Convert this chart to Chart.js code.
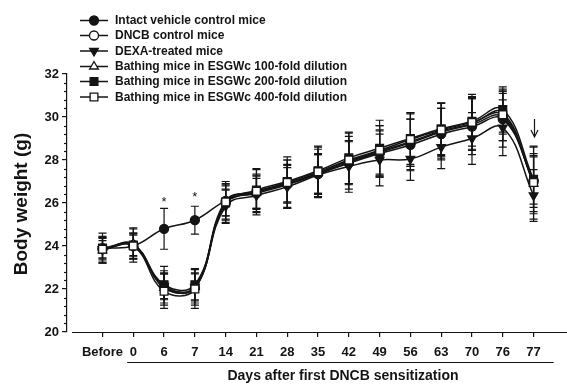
<!DOCTYPE html>
<html><head><meta charset="utf-8">
<script src="https://cdn.jsdelivr.net/npm/chart.js@4/dist/chart.umd.min.js"></script>
<style>html,body{margin:0;padding:0;background:#fff;}canvas{display:block;}</style>
</head><body>
<canvas id="c" width="567" height="384"></canvas>
<script>
const categories = ["Before","0","6","7","14","21","28","35","42","49","56","63","70","76","77"];
const seriesNames = ["Intact vehicle control mice","DNCB control mice","DEXA-treated mice","Bathing mice in ESGWc 100-fold dilution","Bathing mice in ESGWc 200-fold dilution","Bathing mice in ESGWc 400-fold dilution"];
const intact   = [23.9, 24.0, 24.8, 25.2, 26.1, 26.55, 26.9, 27.35, 27.85, 28.3, 28.7, 29.2, 29.55, 29.9, 27.05];
const dncb     = [23.85,24.05,22.1, 22.05,26.0, 26.45, 26.85,27.35, 27.9, 28.35,28.8, 29.3, 29.65, 30.0, 27.0];
const dexa     = [23.85,24.0, 22.15,22.1, 25.85,26.35, 26.75,27.3, 27.7, 28.0, 28.05,28.6, 29.0, 29.5, 26.35];
const esg100   = [23.8, 24.1, 22.05,22.1, 26.1, 26.5, 26.9, 27.4, 27.95, 28.4, 28.85,29.35, 29.7, 30.2, 26.9];
const esg200   = [23.9, 24.05,22.2, 22.2, 26.0, 26.6, 27.0, 27.5, 28.1, 28.55,29.0, 29.45, 29.8, 30.35, 27.1];
const esg400   = [23.85,24.0, 21.9, 22.0, 26.05,26.55, 26.95,27.45, 28.0, 28.45,28.95,29.4, 29.75, 30.1, 26.95];
const sdIntact = [0.5, 0.6, 0.95,0.65,0.7, 0.8, 0.9, 0.9, 1.0, 1.1, 1.2, 1.2, 1.3, 1.3, 1.1];
const sdDncb   = [0.4, 0.5, 0.6, 0.7, 0.6, 0.7, 0.8, 0.9, 1.0, 1.0, 1.1, 1.1, 1.2, 1.1, 1.2];
const sdDexa   = [0.5, 0.5, 0.9, 0.85,0.8, 0.9, 1.0, 1.0, 1.2, 1.2, 1.0, 1.0, 1.2, 1.3, 1.2];
const sd100    = [0.6, 0.7, 0.7, 0.6, 0.9, 0.8, 1.1, 1.1, 1.3, 1.2, 1.3, 1.3, 1.2, 1.0, 1.4];
const sd200    = [0.7, 0.8, 0.65,0.75,0.9, 1.0, 1.0, 1.1, 1.2, 1.3, 1.2, 1.2, 1.15,1.05,1.5];
const sd400    = [0.6, 0.6, 0.8, 0.9, 0.8, 1.0, 1.2, 1.2, 1.1, 1.15,1.25,1.25,1.3, 1.2, 1.7];
const yTickValues = [20,22,24,26,28,30,32];

const INK = '#141414';
const FONT = '"Liberation Sans", Arial, sans-serif';
function pts(arr){ return arr.map((v,i)=>({x:i,y:v})); }
const styles = [
  {ps:'circle', fill:INK, rot:0, r:4.5},
  {ps:'circle', fill:'#fff', rot:0, r:4.5},
  {ps:'triangle', fill:INK, rot:180, r:5},
  {ps:'triangle', fill:'#fff', rot:0, r:5},
  {ps:'rect', fill:INK, rot:0, r:5.5},
  {ps:'rect', fill:'#fff', rot:0, r:5.5}
];
const values = [intact,dncb,dexa,esg100,esg200,esg400];
const sds = [sdIntact,sdDncb,sdDexa,sd100,sd200,sd400];
const orders = [1,5,4,3,2,0];
const datasets = values.map((v,k)=>({
  label: seriesNames[k], data: pts(v), sd: sds[k],
  borderColor: INK, borderWidth: 1.5, tension: 0.42,
  pointStyle: styles[k].ps, pointRotation: styles[k].rot, pointRadius: styles[k].r,
  pointBackgroundColor: styles[k].fill, pointBorderColor: INK, pointBorderWidth: 1.3,
  order: orders[k]
}));

const decor = {
  id:'decor',
  beforeDatasetsDraw(chart){
    const ctx = chart.ctx, xs = chart.scales.x, ys = chart.scales.y;
    ctx.save(); ctx.strokeStyle = INK; ctx.lineWidth = 1.2;
    chart.data.datasets.forEach((ds)=>{
      ds.data.forEach((p,i)=>{
        const x = xs.getPixelForValue(p.x);
        const t = ys.getPixelForValue(p.y + ds.sd[i]);
        const b = ys.getPixelForValue(p.y - ds.sd[i]);
        ctx.beginPath();
        ctx.moveTo(x,t); ctx.lineTo(x,b);
        ctx.moveTo(x-4,t); ctx.lineTo(x+4,t);
        ctx.moveTo(x-4,b); ctx.lineTo(x+4,b);
        ctx.stroke();
      });
    });
    ctx.restore();
  },
  afterDraw(chart){
    const ctx = chart.ctx, xs = chart.scales.x, ys = chart.scales.y, ca = chart.chartArea;
    ctx.save();
    ctx.strokeStyle = INK; ctx.fillStyle = INK; ctx.lineWidth = 1.2;
    // minor y ticks
    for (let k=1;k<30;k++){
      if (k%5===0) continue;
      const v = 20 + k*0.4;
      const y = Math.round(ys.getPixelForValue(v))+0.5;
      ctx.beginPath(); ctx.moveTo(ca.left-3,y); ctx.lineTo(ca.left,y); ctx.stroke();
    }
    // x axis line
    const yb = Math.round(ca.bottom)+0.5;
    ctx.beginPath(); ctx.moveTo(72,yb); ctx.lineTo(567,yb); ctx.stroke();
    // bracket line under day labels
    ctx.beginPath(); ctx.moveTo(xs.getPixelForValue(0.8), 362.5); ctx.lineTo(xs.getPixelForValue(14.65), 362.5); ctx.stroke();
    // titles
    ctx.font = 'bold 14px ' + FONT;
    ctx.textAlign = 'center'; ctx.textBaseline = 'middle';
    ctx.fillText('Days after first DNCB sensitization', 343, 376.5);
    ctx.save();
    ctx.translate(22, 204); ctx.rotate(-Math.PI/2);
    ctx.font = 'bold 19px ' + FONT;
    ctx.fillText('Body weight (g)', 0, 0);
    ctx.restore();
    // asterisks
    ctx.font = '13px ' + FONT;
    ctx.fillText('*', xs.getPixelForValue(2), ys.getPixelForValue(25.75)-6);
    ctx.fillText('*', xs.getPixelForValue(3), ys.getPixelForValue(25.85)-9);
    // arrow at day 77
    const ax = Math.round(xs.getPixelForValue(14))+0.5;
    ctx.beginPath(); ctx.moveTo(ax,119); ctx.lineTo(ax,136); ctx.stroke();
    ctx.beginPath(); ctx.moveTo(ax-3.5,130); ctx.lineTo(ax,137); ctx.lineTo(ax+3.5,130); ctx.stroke();
    // legend
    const rows = [20.5, 35.5, 51, 66.5, 81.5, 97];
    ctx.font = 'bold 12px ' + FONT;
    ctx.textAlign = 'left';
    chart.data.datasets.forEach((ds,k)=>{
      const y = rows[k];
      ctx.lineWidth = 1.5;
      ctx.beginPath(); ctx.moveTo(80,y); ctx.lineTo(108,y); ctx.stroke();
      ctx.fillStyle = styles[k].fill; ctx.strokeStyle = INK; ctx.lineWidth = 1.3;
      Chart.helpers.drawPoint(ctx, {pointStyle: styles[k].ps, radius: styles[k].r, rotation: styles[k].rot, borderWidth:1.3}, 94, y);
      ctx.fillStyle = INK;
      ctx.fillText(ds.label, 115, y+0.5);
    });
    ctx.restore();
  }
};

new Chart(document.getElementById('c'), {
  type: 'line',
  data: { datasets },
  options: {
    responsive: false, animation: false,
    layout: { padding: { top: 74, left: 0, right: 0, bottom: 0 } },
    plugins: { legend: { display: false }, tooltip: { enabled: false } },
    scales: {
      x: {
        type: 'linear', min: -1.153, max: 14.865,
        afterBuildTicks(s){ s.ticks = categories.map((c,i)=>({value:i})); },
        afterFit(s){ s.height = 52; },
        ticks: { autoSkip:false, maxRotation:0, padding: 8, color: INK,
          font: { family: FONT, size: 13, weight: 'bold' },
          callback: (v)=> categories[v] },
        grid: { drawOnChartArea: false, drawTicks: true, tickLength: 5, color: INK, lineWidth: 1.2 },
        border: { display: false }
      },
      y: {
        min: 20, max: 32,
        afterBuildTicks(s){ s.ticks = yTickValues.map(v=>({value:v})); },
        afterFit(s){ s.width = 67; },
        ticks: { padding: 3, color: INK,
          font: { family: FONT, size: 13, weight: 'bold' } },
        grid: { drawOnChartArea: false, drawTicks: true, tickLength: 5, color: INK, lineWidth: 1.2 },
        border: { display: true, color: INK, width: 1.2 }
      }
    }
  },
  plugins: [decor]
});
</script>
</body></html>
